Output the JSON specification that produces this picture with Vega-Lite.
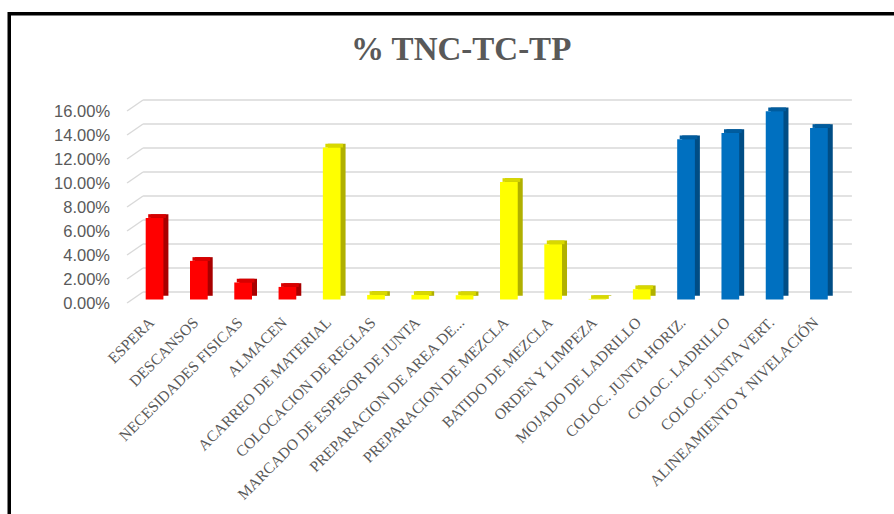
{
  "$schema": "https://vega.github.io/schema/vega-lite/v6.json",
  "width": 884.75,
  "height": 500.25,
  "autosize": {"type": "none"},
  "padding": {"left": 9.25, "top": 13.75, "right": 0, "bottom": 0},
  "background": "white",
  "title": {
    "text": "% TNC-TC-TP",
    "anchor": "middle",
    "frame": "group",
    "orient": "top",
    "baseline": "alphabetic",
    "offset": 0,
    "dx": 9.5,
    "dy": 79,
    "font": "Liberation Serif",
    "fontSize": 33,
    "fontWeight": "bold",
    "color": "#595959"
  },
  "datasets": {
    "actividades": [
      {"actividad": "ESPERA", "tipo": "TNC", "porcentaje": 0.0680},
      {"actividad": "DESCANSOS", "tipo": "TNC", "porcentaje": 0.0322},
      {"actividad": "NECESIDADES FISICAS", "tipo": "TNC", "porcentaje": 0.0142},
      {"actividad": "ALMACEN", "tipo": "TNC", "porcentaje": 0.0105},
      {"actividad": "ACARREO DE MATERIAL", "tipo": "TC", "porcentaje": 0.1267},
      {"actividad": "COLOCACION DE REGLAS", "tipo": "TC", "porcentaje": 0.0038},
      {"actividad": "MARCADO DE ESPESOR DE JUNTA", "tipo": "TC", "porcentaje": 0.0038},
      {"actividad": "PREPARACION DE AREA DE...", "tipo": "TC", "porcentaje": 0.0036},
      {"actividad": "PREPARACION DE MEZCLA", "tipo": "TC", "porcentaje": 0.0980},
      {"actividad": "BATIDO DE MEZCLA", "tipo": "TC", "porcentaje": 0.0461},
      {"actividad": "ORDEN Y LIMPEZA", "tipo": "TC", "porcentaje": 0.0005},
      {"actividad": "MOJADO DE LADRILLO", "tipo": "TC", "porcentaje": 0.0086},
      {"actividad": "COLOC. JUNTA  HORIZ.", "tipo": "TP", "porcentaje": 0.1336},
      {"actividad": "COLOC. LADRILLO", "tipo": "TP", "porcentaje": 0.1388},
      {"actividad": "COLOC. JUNTA VERT.", "tipo": "TP", "porcentaje": 0.1569},
      {"actividad": "ALINEAMIENTO Y NIVELACIÓN", "tipo": "TP", "porcentaje": 0.1430}
    ],
    "escala": [
      {"v": 0}, {"v": 0.02}, {"v": 0.04}, {"v": 0.06}, {"v": 0.08},
      {"v": 0.10}, {"v": 0.12}, {"v": 0.14}, {"v": 0.16}
    ]
  },
  "resolve": {"scale": {"color": "independent"}},
  "layer": [
    {
      "description": "back-wall gridlines",
      "data": {"name": "escala"},
      "mark": {"type": "rule", "color": "#d9d9d9", "strokeWidth": 1.5, "xOffset": -11.5, "x2Offset": 33},
      "encoding": {
        "x": {
          "datum": "ESPERA",
          "type": "nominal",
          "axis": null,
          "scale": {
            "type": "band",
            "domain": ["ESPERA", "DESCANSOS", "NECESIDADES FISICAS", "ALMACEN", "ACARREO DE MATERIAL", "COLOCACION DE REGLAS", "MARCADO DE ESPESOR DE JUNTA", "PREPARACION DE AREA DE...", "PREPARACION DE MEZCLA", "BATIDO DE MEZCLA", "ORDEN Y LIMPEZA", "MOJADO DE LADRILLO", "COLOC. JUNTA  HORIZ.", "COLOC. LADRILLO", "COLOC. JUNTA VERT.", "ALINEAMIENTO Y NIVELACIÓN"],
            "range": [123.16, 831.8],
            "paddingInner": 0.6,
            "paddingOuter": 0.3
          }
        },
        "x2": {"datum": "ALINEAMIENTO Y NIVELACIÓN"},
        "y": {
          "field": "v",
          "type": "quantitative",
          "axis": null,
          "scale": {"domain": [0, 0.16], "range": [278.25, 86.25], "nice": false, "zero": true}
        }
      }
    },
    {
      "description": "side-wall gridline stubs",
      "data": {"name": "escala"},
      "mark": {"type": "rule", "color": "#d9d9d9", "strokeWidth": 1.5, "xOffset": -27.5, "x2Offset": -11.5, "yOffset": 11, "y2Offset": 0},
      "encoding": {
        "x": {"datum": "ESPERA", "type": "nominal", "axis": null},
        "x2": {"datum": "ESPERA"},
        "y": {"field": "v", "type": "quantitative", "axis": null},
        "y2": {"field": "v"}
      }
    },
    {
      "description": "value axis labels",
      "data": {"name": "escala"},
      "mark": {"type": "text", "align": "right", "baseline": "middle", "xOffset": -44.5, "yOffset": 11.5, "font": "Liberation Sans", "fontSize": 16.5, "color": "#595959"},
      "encoding": {
        "x": {"datum": "ESPERA", "type": "nominal", "axis": null},
        "y": {"field": "v", "type": "quantitative", "axis": null},
        "text": {"field": "v", "type": "quantitative", "format": ".2%"}
      }
    },
    {
      "description": "column side faces",
      "data": {"name": "actividades"},
      "mark": {"type": "bar", "xOffset": 5, "yOffset": 3.8, "y2Offset": 4.9},
      "encoding": {
        "x": {"field": "actividad", "type": "nominal", "axis": null},
        "y": {"field": "porcentaje", "type": "quantitative", "axis": null},
        "color": {"field": "tipo", "type": "nominal", "legend": null, "scale": {"domain": ["TNC", "TC", "TP"], "range": ["#a80000", "#b0b000", "#004d85"]}}
      }
    },
    {
      "description": "column top faces",
      "data": {"name": "actividades"},
      "mark": {"type": "bar", "xOffset": 2.5, "yOffset": 3.8, "y2Offset": 7.5},
      "encoding": {
        "x": {"field": "actividad", "type": "nominal", "axis": null},
        "y": {"field": "porcentaje", "type": "quantitative", "axis": null},
        "y2": {"field": "porcentaje"},
        "color": {"field": "tipo", "type": "nominal", "legend": null, "scale": {"domain": ["TNC", "TC", "TP"], "range": ["#d80000", "#d8d800", "#005c9e"]}}
      }
    },
    {
      "description": "column front faces",
      "data": {"name": "actividades"},
      "mark": {"type": "bar", "yOffset": 7.5, "y2Offset": 7.5},
      "encoding": {
        "x": {"field": "actividad", "type": "nominal", "axis": null},
        "y": {"field": "porcentaje", "type": "quantitative", "axis": null},
        "color": {"field": "tipo", "type": "nominal", "legend": null, "scale": {"domain": ["TNC", "TC", "TP"], "range": ["#ff0000", "#ffff00", "#0070c0"]}}
      }
    },
    {
      "description": "category labels",
      "data": {"name": "actividades"},
      "mark": {"type": "text", "angle": 315, "align": "right", "baseline": "middle", "xOffset": -3, "yOffset": 28, "font": "Liberation Serif", "fontSize": 15.5, "color": "#595959"},
      "encoding": {
        "x": {"field": "actividad", "type": "nominal", "axis": null},
        "y": {"datum": 0, "type": "quantitative", "axis": null},
        "text": {"field": "actividad", "type": "nominal"}
      }
    }
  ],
  "config": {
    "view": {
      "stroke": "#000000",
      "strokeWidth": 3.5,
      "strokeDash": [884.75, 1385, 500.25],
      "strokeCap": "square"
    }
  }
}
